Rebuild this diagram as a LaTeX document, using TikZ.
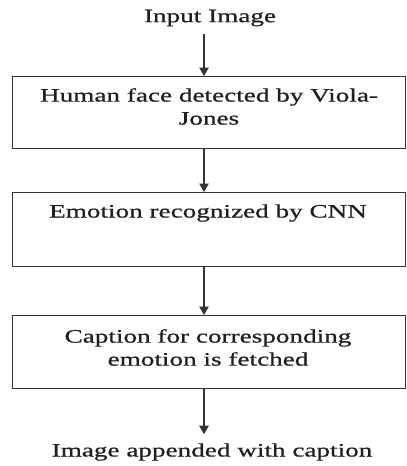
\documentclass[tikz,border=0pt]{standalone}
\usepackage{fontspec}
\setmainfont{Liberation Serif}[FakeStretch=1.43,FakeBold=0.7]
\usetikzlibrary{arrows.meta}
\begin{document}
\begin{tikzpicture}[x=1pt,y=-1pt,
  every node/.style={text=black!88, font=\fontsize{19}{23}\selectfont, align=center, inner sep=0pt},
  boxnode/.style={draw=black!80, line width=1.3pt, minimum width=393pt, anchor=north west},
  arr/.style={draw=black!80, line width=1.1pt, -{Triangle[width=9.5pt,length=8.5pt]}}]
\useasboundingbox (0,0) rectangle (407,466);
\coordinate (ax) at (204,0);
\node (in) at (210,18) {Input Image};
\node[boxnode, minimum height=72pt] (b1) at (12,76) {};
\node (t1) at (209,106.5) {Human face detected by Viola-\\Jones};
\node[boxnode, minimum height=74pt] (b2) at (12,192) {};
\node (t2) at (208,213) {Emotion recognized by CNN};
\node[boxnode, minimum height=73pt] (b3) at (12,315) {};
\node (t3) at (208,347.5) {Caption for corresponding\\emotion is fetched};
\node (out) at (212,452) {Image appended with caption};
\draw[arr, shorten <=8pt] (in.south -| ax) -- (b1.north -| ax);
\draw[arr] (b1.south -| ax) -- (b2.north -| ax);
\draw[arr] (b2.south -| ax) -- (b3.north -| ax);
\draw[arr, shorten >=9pt] (b3.south -| ax) -- (out.north -| ax);
\end{tikzpicture}
\end{document}
